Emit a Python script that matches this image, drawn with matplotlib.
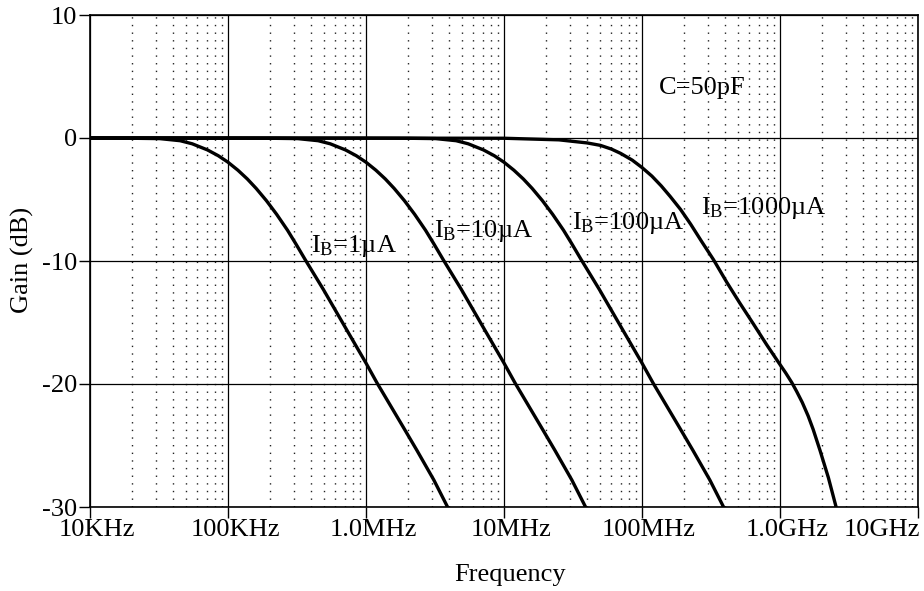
import matplotlib
matplotlib.use("Agg")
import matplotlib.pyplot as plt
import matplotlib.transforms as mtransforms
from matplotlib.ticker import FixedLocator, LogLocator, NullFormatter

plt.rcParams["font.family"] = ["Liberation Serif", "DejaVu Serif"]
plt.rcParams["mathtext.fontset"] = "custom"
plt.rcParams["mathtext.rm"] = "Liberation Serif"
plt.rcParams["mathtext.it"] = "Liberation Serif:italic"

# Frequency response of the stage for four bias currents (C = 50 pF)
freq_1uA = [1e4, 2e4, 3.2e4, 4.5e4, 5.5e4, 7.1e4, 8.5e4, 1.0e5, 1.18e5, 1.38e5,
            1.6e5, 1.9e5, 2.25e5, 2.7e5, 3.1e5, 3.63e5, 4.9e5, 7.25e5, 1.0e6,
            1.2e6, 1.86e6, 2.34e6, 3.1e6, 3.9e6]
gain_1uA = [0.0, -0.02, -0.05, -0.22, -0.47, -0.97, -1.44, -1.97, -2.62, -3.33,
            -4.1, -5.1, -6.2, -7.5, -8.6, -9.9, -12.3, -15.6, -18.3,
            -19.9, -23.5, -25.4, -27.8, -30.0]

freq_10uA = [1e4, 1e5, 2e5, 3.2e5, 4.5e5, 5.5e5, 7.1e5, 8.5e5, 1.0e6, 1.18e6,
             1.38e6, 1.6e6, 1.9e6, 2.25e6, 2.7e6, 3.1e6, 3.63e6, 4.9e6, 7.25e6,
             1.0e7, 1.2e7, 1.86e7, 2.34e7, 3.1e7, 3.9e7]
gain_10uA = [0.0, -0.01, -0.02, -0.05, -0.22, -0.47, -0.97, -1.44, -1.97, -2.62,
             -3.33, -4.1, -5.1, -6.2, -7.5, -8.6, -9.9, -12.3, -15.6,
             -18.3, -19.9, -23.5, -25.4, -27.8, -30.0]

freq_100uA = [1e4, 1e6, 2e6, 3.2e6, 4.5e6, 5.5e6, 7.1e6, 8.5e6, 1.0e7, 1.18e7,
              1.38e7, 1.6e7, 1.9e7, 2.25e7, 2.7e7, 3.1e7, 3.63e7, 4.9e7, 7.25e7,
              1.0e8, 1.2e8, 1.86e8, 2.34e8, 3.1e8, 3.9e8]
gain_100uA = [0.0, -0.01, -0.02, -0.05, -0.22, -0.47, -0.97, -1.44, -1.97, -2.62,
              -3.33, -4.1, -5.1, -6.2, -7.5, -8.6, -9.9, -12.3, -15.6,
              -18.3, -19.9, -23.5, -25.4, -27.8, -30.0]

freq_1000uA = [1e4, 1e7, 2.5e7, 4.0e7, 5.0e7, 6.0e7, 7.0e7, 8.5e7, 1.0e8,
               1.18e8, 1.38e8, 1.6e8, 1.9e8, 2.25e8, 2.7e8, 3.3e8, 4.1e8,
               5.1e8, 6.4e8, 8.0e8, 9.7e8, 1.1e9, 1.22e9, 1.32e9, 1.45e9,
               1.6e9, 1.74e9, 1.95e9, 2.24e9, 2.55e9]
gain_1000uA = [0.0, -0.02, -0.15, -0.4, -0.6, -0.9, -1.25, -1.8, -2.4,
               -3.1, -3.9, -4.75, -5.8, -7.0, -8.4, -9.9, -11.7,
               -13.4, -15.1, -16.8, -18.2, -19.1, -19.9, -20.6, -21.5,
               -22.6, -23.7, -25.4, -27.6, -30.0]

series = [
    (freq_1uA, gain_1uA),
    (freq_10uA, gain_10uA),
    (freq_100uA, gain_100uA),
    (freq_1000uA, gain_1000uA),
]

# Curve annotations: (text, frequency, gain at baseline)
curve_labels = [
    (r"I$_{\rm B}$=1µA", 4.0e5, -9.3),
    (r"I$_{\rm B}$=10µA", 3.1e6, -8.05),
    (r"I$_{\rm B}$=100µA", 3.1e7, -7.4),
    (r"I$_{\rm B}$=1000µA", 2.68e8, -6.2),
]
cap_text = "C=50pF"
cap_pos = (1.33e8, 3.6)

x_ticks = [1e4, 1e5, 1e6, 1e7, 1e8, 1e9, 1e10]
x_tick_labels = ["10KHz", "100KHz", "1.0MHz", "10MHz", "100MHz", "1.0GHz", "10GHz"]
y_ticks = [10, 0, -10, -20, -30]
y_tick_labels = ["10", "0", "-10", "-20", "-30"]

fig = plt.figure(figsize=(9.24, 5.91), dpi=100)
ax = fig.add_axes([90 / 924, 84 / 591, 828 / 924, 492 / 591])

ax.set_xscale("log")
ax.set_xlim(1e4, 1e10)
ax.set_ylim(-30, 10)

ax.xaxis.set_major_locator(FixedLocator(x_ticks))
ax.set_xticklabels(x_tick_labels)
ax.xaxis.set_minor_locator(LogLocator(base=10, subs=range(2, 10), numticks=20))
ax.xaxis.set_minor_formatter(NullFormatter())
ax.set_yticks(y_ticks)
ax.set_yticklabels(y_tick_labels)

ax.tick_params(axis="both", which="major", direction="out", length=8,
               width=1.0, color="black", labelsize=19, pad=1)
ax.tick_params(axis="x", which="minor", length=0)

# Grid: solid decades / dB steps, dotted sub-decades
ax.grid(which="major", axis="both", color="black", linewidth=0.9)
ax.grid(which="minor", axis="x", color="#222222", linewidth=1.0,
        linestyle=(0, (1, 4.5)))
ax.set_axisbelow(True)

for spine in ax.spines.values():
    spine.set_linewidth(1.2)
    spine.set_color("black")

for f, g in series:
    ax.plot(f, g, color="black", linewidth=2.4, solid_joinstyle="round",
            zorder=3)

for text, f, g in curve_labels:
    ax.text(f, g, text, fontsize=19, ha="left", va="baseline", zorder=4)
ax.text(cap_pos[0], cap_pos[1], cap_text, fontsize=19, ha="left",
        va="baseline", zorder=4)

# Tick labels sit slightly right of their ticks; last one kept inside the figure
shift = mtransforms.ScaledTranslation(7 / 100, 0, fig.dpi_scale_trans)
xlabels = ax.get_xticklabels()
for lbl in xlabels[:-1]:
    lbl.set_transform(lbl.get_transform() + shift)
xlabels[-1].set_horizontalalignment("right")
xlabels[-1].set_transform(xlabels[-1].get_transform()
                          + mtransforms.ScaledTranslation(2 / 100, 0, fig.dpi_scale_trans))

ax.set_xlabel("Frequency", fontsize=19)
ax.xaxis.set_label_coords(0.507, -0.115)
ax.set_ylabel("Gain (dB)", fontsize=19)
ax.yaxis.set_label_coords(-0.082, 0.502)
ax.yaxis.label.set_verticalalignment("center")

fig.savefig("out.png", dpi=100)
